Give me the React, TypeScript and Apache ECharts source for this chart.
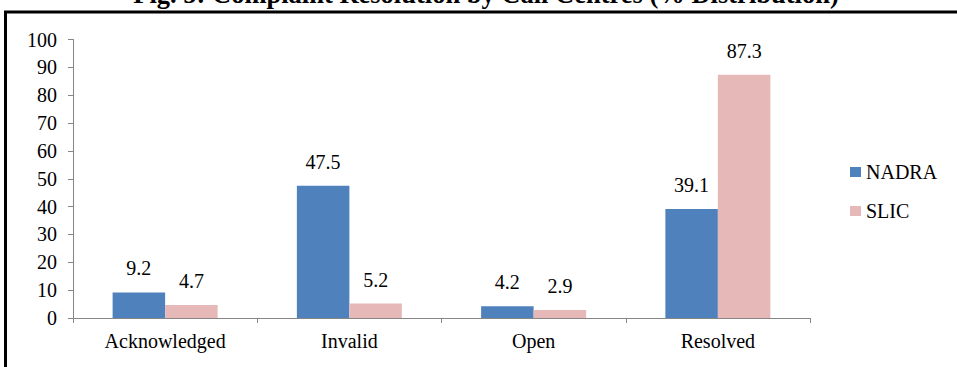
import React, { useEffect, useRef } from "react";
import * as echarts from "echarts";

const categories = ["Acknowledged", "Invalid", "Open", "Resolved"];
const nadra = [9.2, 47.5, 4.2, 39.1];
const slic = [4.7, 5.2, 2.9, 87.3];
const seriesNames = ["NADRA", "SLIC"];
const titleText = "Fig. 5: Complaint Resolution by Call Centres (% Distribution)";

const FONT = "Liberation Serif";

export default function App() {
  const ref = useRef<HTMLDivElement>(null);
  useEffect(() => {
    if (!ref.current) return;
    const chart = echarts.init(ref.current, null, { renderer: "svg" });
    const labelStyle = {
      show: true,
      position: "top" as const,
      distance: 14,
      color: "#000",
      fontFamily: FONT,
      fontSize: 20,
    };
    chart.setOption({
      animation: false,
      backgroundColor: "#fff",
      textStyle: { fontFamily: FONT, color: "#000" },
      grid: { left: 73, right: 147, top: 39.5, bottom: 49, containLabel: false },
      legend: {
        orient: "vertical",
        left: 845,
        top: 157,
        itemWidth: 11,
        itemHeight: 10,
        itemGap: 19,
        icon: "rect",
        textStyle: { fontFamily: FONT, fontSize: 20, color: "#000" },
        data: seriesNames,
      },
      xAxis: {
        type: "category",
        data: categories,
        axisLine: { lineStyle: { color: "#868686", width: 1 } },
        axisTick: { show: true, length: 5, lineStyle: { color: "#868686" } },
        axisLabel: { color: "#000", fontFamily: FONT, fontSize: 20, margin: 13 },
      },
      yAxis: {
        type: "value",
        min: 0,
        max: 100,
        interval: 10,
        splitLine: { show: false },
        axisLine: { show: true, lineStyle: { color: "#868686", width: 1 } },
        axisTick: { show: true, length: 5, lineStyle: { color: "#868686" } },
        axisLabel: { color: "#000", fontFamily: FONT, fontSize: 20, margin: 16 },
      },
      series: [
        {
          name: seriesNames[0],
          type: "bar",
          data: nadra,
          barGap: "0%",
          barCategoryGap: "43%",
          itemStyle: { color: "#4F81BD" },
          label: labelStyle,
        },
        {
          name: seriesNames[1],
          type: "bar",
          data: slic,
          barGap: "0%",
          barCategoryGap: "43%",
          itemStyle: { color: "#E6B9B8" },
          label: labelStyle,
        },
      ],
      graphic: [
        {
          type: "text",
          x: 486,
          y: -6,
          style: {
            text: titleText,
            fontFamily: FONT,
            fontWeight: "bold",
            fontSize: 26.5,
            fill: "#000",
            align: "center",
            verticalAlign: "middle",
          },
        },
        {
          type: "line",
          shape: { x1: 4, y1: 12, x2: 957, y2: 12 },
          style: { stroke: "#000", lineWidth: 3 },
        },
        {
          type: "line",
          shape: { x1: 5.5, y1: 11, x2: 5.5, y2: 367 },
          style: { stroke: "#000", lineWidth: 3 },
        },
      ],
    });
    return () => chart.dispose();
  }, []);
  return <div ref={ref} style={{ width: 957, height: 367, position: "fixed", left: 0, top: 0 }} />;
}
